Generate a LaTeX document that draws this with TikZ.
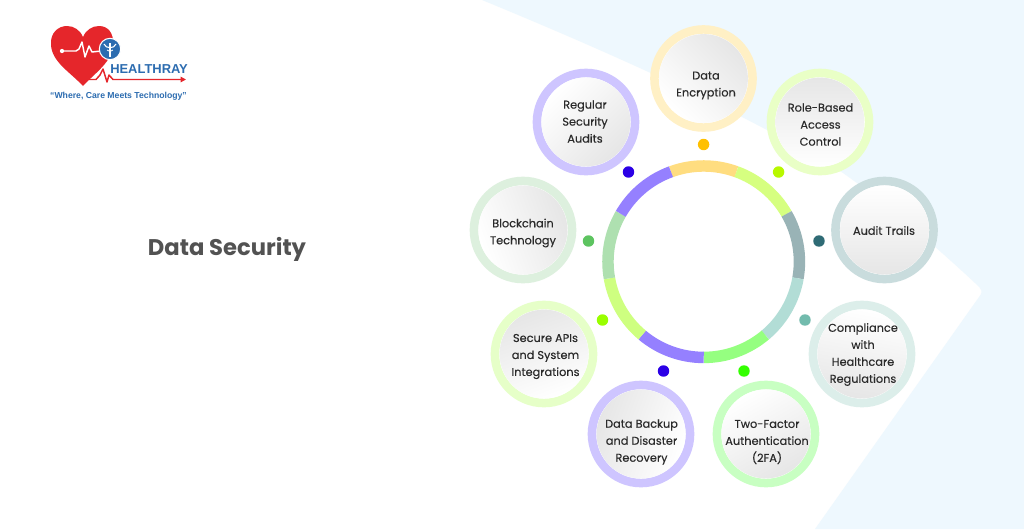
\documentclass[tikz,border=0pt]{standalone}
\usepackage{fontspec}
\setmainfont{Poppins}
\newfontfamily\medfont[FakeBold=0.25]{Poppins}
\newfontfamily\logofont{Liberation Sans}
\usetikzlibrary{arrows.meta}
\definecolor{bgblue}{HTML}{EEF8FE}
\definecolor{logored}{HTML}{E5262B}
\definecolor{logoblue}{HTML}{2C6CB0}
\definecolor{txt}{HTML}{2A2A2A}
\definecolor{discgrey}{HTML}{E6E6E6}
\tikzset{
  ringdisc/.style={circle,draw=#1,line width=6.4pt,fill=white,minimum size=73.6pt,inner sep=0pt},
  shadedisc/.style={circle,inner sep=0pt,minimum size=66.6pt,top color=discgrey,middle color=white!99!black,bottom color=white,shading angle=#1},
  lbl/.style={text=txt,align=center,font=\medfont\fontsize{8.5pt}{12.75pt}\selectfont,inner sep=0pt},
  dotn/.style={circle,fill=#1,minimum size=8.6pt,inner sep=0pt},
  seg/.style={draw=#1,line width=8.6pt,line cap=butt},
}
\newcommand{\secitem}[8]{% name, cx, cy, ring colour, shading, tx, ty, text
  \node[ringdisc=#4] (#1ring) at (#2,#3) {};
  \node[shadedisc=#5] (#1disc) at (#2,#3) {};
  \node[lbl] (#1) at (#6,#7) {#8};
}
\begin{document}
\begin{tikzpicture}[x=0.75pt,y=-0.75pt]
\useasboundingbox (0,0) rectangle (1024,529);
\fill[white] (0,0) rectangle (1024,529);
% background
\fill[bgblue] (482,0) .. controls (640,65) and (760,122) .. (843,173)
  .. controls (890,206) and (945,255) .. (975,283)
  .. controls (983,290) and (983,292) .. (979,297)
  -- (815,529) -- (1024,529) -- (1024,0) -- cycle;
% ring
\coordinate (ringc) at (703.7,261.7);
\foreach \a/\b/\c in {70/110/FFDD80,30/70/D6FF80,-10/30/99B3B6,-50/-10/B2DDD6,-90/-50/95FF80,-130/-90/9580FF,-170/-130/CEFF80,-210/-170/AEE0B0,-250/-210/9580FF}{
  \definecolor{segc}{HTML}{\c}
  \draw[seg=segc] (ringc) ++(\a:71.8pt) arc[start angle=\a,end angle=\b,radius=71.8pt];
}
% dots
\definecolor{d1}{HTML}{FFC000}\definecolor{d2}{HTML}{B8F800}\definecolor{d3}{HTML}{2F6B75}
\definecolor{d4}{HTML}{72BBAD}\definecolor{d5}{HTML}{33FF00}\definecolor{d6}{HTML}{2B00E6}
\definecolor{d7}{HTML}{99FF00}\definecolor{d8}{HTML}{5DC460}
\node[dotn=d1] (dot1) at (703.6,144.5) {};
\node[dotn=d2] (dot2) at (778.6,172) {};
\node[dotn=d3] (dot3) at (819,241) {};
\node[dotn=d4] (dot4) at (805,320) {};
\node[dotn=d5] (dot5) at (744,371) {};
\node[dotn=d6] (dot6) at (663.5,371) {};
\node[dotn=d7] (dot7) at (602.5,320) {};
\node[dotn=d8] (dot8) at (588.5,241) {};
\node[dotn=d6] (dot9) at (628.5,172) {};
% items
\definecolor{r1}{HTML}{FFF0C5}\definecolor{r2}{HTML}{E9FFC6}\definecolor{r3}{HTML}{C9DCDD}
\definecolor{r4}{HTML}{DCEEEA}\definecolor{r5}{HTML}{C8FFC2}\definecolor{r6}{HTML}{CEC5FF}
\definecolor{r7}{HTML}{E6FFC8}\definecolor{r8}{HTML}{DDF0DE}
\secitem{enc}{703.5}{78.5}{r1}{-45}{706}{85.5}{Data\\Encryption}
\secitem{rbac}{820}{122}{r2}{0}{820.5}{124.5}{Role-Based\\Access\\Control}
\secitem{audit}{884.5}{230}{r3}{180}{884}{230.5}{Audit Trails}
\secitem{comp}{862}{354}{r4}{170}{863}{354.5}{Compliance\\with\\Healthcare\\Regulations}
\secitem{tfa}{766}{434}{r5}{-150}{767}{442}{Two-Factor\\Authentication\\(2FA)}
\secitem{bak}{641}{434}{r6}{70}{641.5}{442}{Data Backup\\and Disaster\\Recovery}
\secitem{api}{544}{354}{r7}{20}{545.5}{356.5}{Secure APIs\\and System\\Integrations}
\secitem{chain}{523}{230}{r8}{-70}{523}{233}{Blockchain\\Technology}
\secitem{aud}{586}{122}{r6}{-135}{585}{121.5}{Regular\\Security\\Audits}
% title
\node[inner sep=0pt,text=black!68,font=\fontsize{17pt}{20pt}\selectfont\bfseries] (title) at (227,249.5) {Data Security};
% logo
\fill[logored] (83,86) .. controls (70,72) and (52,62) .. (51,45)
  .. controls (50,33) and (58,26) .. (67,26)
  .. controls (74,26) and (80,30) .. (83,37)
  .. controls (86,30) and (92,26) .. (99,26)
  .. controls (108,26) and (114,33) .. (113,45)
  .. controls (112,62) and (96,72) .. (83,86) -- cycle;
\draw[white,line width=1.1pt,line join=round] (62,51) -- (76,51) -- (79,49) -- (82,42) -- (85,57) -- (89,46) -- (92,52) -- (101,51);
\fill[white] (62,51) circle[radius=1.6pt];
\node[circle,fill=logoblue,draw=white,line width=0.8pt,minimum size=16pt,inner sep=0pt] (seal) at (110,49) {};
\draw[white,line width=0.8pt] (110,43) -- (110,57);
\draw[white,line width=0.8pt] (104,44) .. controls (106,49) and (114,49) .. (116,44);
\draw[white,line width=0.6pt] (107,50) .. controls (109,52) and (111,52) .. (113,50);
\node[inner sep=0pt,anchor=west,text=logoblue,font=\logofont\bfseries\fontsize{9.7pt}{11pt}\selectfont] (brand) at (110,69.5) {HEALTHRAY};
\coordinate (pulsestart) at (89,79.5);
\coordinate (pulseend) at (186,79.5);
\draw[logored,line width=1.1pt,line join=round,-{Triangle[length=4pt,width=4pt]}] (pulsestart) -- (96,79.5) -- (100,75) -- (103,69) -- (107,82) -- (109,75) -- (113,79.5) -- (pulseend);
\node[inner sep=0pt,text=logoblue,font=\logofont\bfseries\fontsize{6.5pt}{8pt}\selectfont] (tag) at (118.5,96) {“Where, Care Meets Technology”};
\end{tikzpicture}
\end{document}
